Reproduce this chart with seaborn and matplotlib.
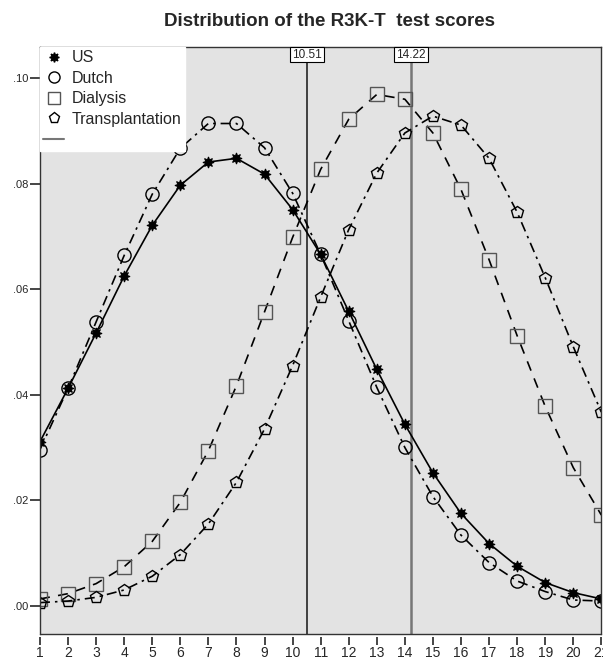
import numpy as np
import pandas as pd
import matplotlib
matplotlib.use("Agg")
import matplotlib.pyplot as plt
from matplotlib.lines import Line2D
import seaborn as sns

scores = list(range(1, 22))

us = [0.0311, 0.0412, 0.0517, 0.0625, 0.0721, 0.0797, 0.0841, 0.0848, 0.0818, 0.0751,
      0.0666, 0.0558, 0.0448, 0.0344, 0.0252, 0.0175, 0.0118, 0.0075, 0.0044, 0.0025, 0.0013]
dutch = [0.0296, 0.0412, 0.0538, 0.0664, 0.0780, 0.0867, 0.0914, 0.0914, 0.0868, 0.0782,
         0.0666, 0.0540, 0.0414, 0.0300, 0.0207, 0.0134, 0.0082, 0.0047, 0.0027, 0.0011, 0.0009]
dialysis = [0.0013, 0.0023, 0.0042, 0.0074, 0.0122, 0.0196, 0.0294, 0.0417, 0.0557, 0.0698,
            0.0827, 0.0922, 0.0969, 0.0960, 0.0896, 0.0789, 0.0656, 0.0512, 0.0378, 0.0262, 0.0172]
transplant = [0.0006, 0.0009, 0.0016, 0.0030, 0.0056, 0.0097, 0.0155, 0.0234, 0.0335, 0.0455,
              0.0585, 0.0713, 0.0820, 0.0896, 0.0928, 0.0911, 0.0848, 0.0746, 0.0622, 0.0491, 0.0367]

ref_lines = [10.51, 14.22]
ref_colors = ["#333333", "#777777"]
y_ticks = [0.00, 0.02, 0.04, 0.06, 0.08, 0.10]

sns.set_style("white")
plt.rcParams["font.family"] = ["Liberation Sans", "DejaVu Sans"]

fig = plt.figure(figsize=(6.03, 6.59), dpi=100)
ax = fig.add_axes([0.0663, 0.0375, 0.9309, 0.8912], facecolor="#e3e3e3")

series = [
    ("US", us, dict(color="black", linestyle="-", lw=1.2, marker=(8, 1, 0), ms=8,
                    mfc="black", mec="black")),
    ("Dutch", dutch, dict(color="black", linestyle=(0, (6, 3, 1.5, 3)), lw=1.2, marker="o", ms=9.5,
                          mfc="none", mec="black", mew=1.0)),
    ("Dialysis", dialysis, dict(color="black", linestyle=(0, (6, 5)), lw=1.2, marker="s", ms=10,
                                mfc="none", mec="#555555", mew=1.0)),
    ("Transplantation", transplant, dict(color="black", linestyle=(0, (6, 3, 1.5, 3)), lw=1.2,
                                         marker="p", ms=9, mfc="none", mec="black", mew=1.0)),
]

for name, vals, kw in series:
    df = pd.DataFrame({"score": scores, "density": vals})
    sns.lineplot(data=df, x="score", y="density", ax=ax, **kw)

ymin, ymax = -0.0054, 0.1059
ax.set_xlim(1, 21)
ax.set_ylim(ymin, ymax)

for xv, c in zip(ref_lines, ref_colors):
    ax.axvline(xv, color=c, lw=1.3 if c == "#333333" else 1.8, zorder=1)
    ax.text(xv, ymax - 0.0003, f"{xv:.2f}", ha="center", va="top", fontsize=8.5,
            bbox=dict(boxstyle="square,pad=0.15", fc="white", ec="black", lw=0.8), zorder=5)

ax.set_xticks(scores)
ax.set_xticklabels([str(s) for s in scores], fontsize=10)
ax.set_yticks(y_ticks)
ax.set_yticklabels([f"{t:.2f}"[1:] for t in y_ticks], fontsize=8)
ax.tick_params(axis="x", direction="out", length=6, width=1.2, pad=0.5, bottom=True)
ax.tick_params(axis="y", direction="out", length=7.5, width=1.2, pad=1, left=True)
ax.set_xlabel("")
ax.set_ylabel("")

for s in ["left", "top", "right"]:
    ax.spines[s].set_color("#333333")
    ax.spines[s].set_linewidth(1.0)
ax.spines["bottom"].set_position(("outward", 2))
ax.spines["bottom"].set_visible(False)
ax.axhline(ymin, color="#333333", lw=1.0, clip_on=False)

handles = [
    Line2D([], [], linestyle="none", marker=(8, 1, 0), ms=7, mfc="black", mec="black"),
    Line2D([], [], linestyle="none", marker="o", ms=8, mfc="none", mec="black"),
    Line2D([], [], linestyle="none", marker="s", ms=8, mfc="none", mec="#555555"),
    Line2D([], [], linestyle="none", marker="p", ms=8, mfc="none", mec="black"),
    Line2D([], [], color="#777777", lw=1.5),
]
labels = ["US", "Dutch", "Dialysis", "Transplantation", ""]
leg = ax.legend(handles, labels, loc="upper left", bbox_to_anchor=(0, 1), borderaxespad=0,
                frameon=True, fancybox=False, facecolor="white", edgecolor="white",
                framealpha=1, fontsize=11.5, handlelength=1.3, handletextpad=0.5,
                labelspacing=0.35, borderpad=0.2)
leg.set_zorder(10)

fig.text(0.547, 0.968, "Distribution of the R3K-T  test scores", ha="center", va="center",
         fontsize=13.5, fontweight="bold")

fig.savefig("out.png", dpi=100)
